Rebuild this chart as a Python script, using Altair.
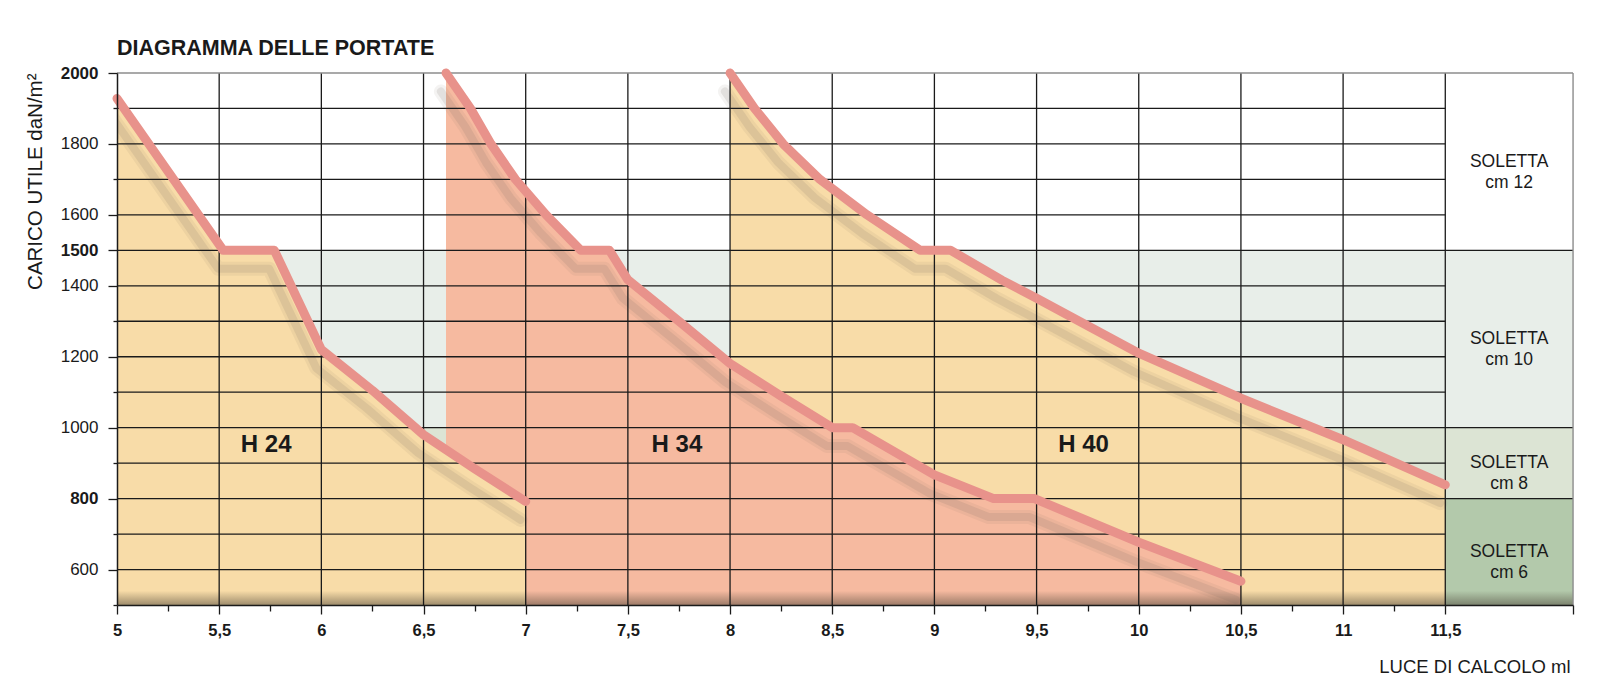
import altair as alt
import pandas as pd

# ---------------- texts ----------------
TITLE = "DIAGRAMMA DELLE PORTATE"
Y_TITLE = "CARICO UTILE daN/m²"
X_TITLE = "LUCE DI CALCOLO ml"

# ---------------- axes ----------------
X_DOMAIN = [5.0, 12.125]
Y_DOMAIN = [500, 2000]
TABLE_END = 11.5
X_TICKS = [5, 5.25, 5.5, 5.75, 6, 6.25, 6.5, 6.75, 7, 7.25, 7.5, 7.75, 8, 8.25, 8.5, 8.75,
           9, 9.25, 9.5, 9.75, 10, 10.25, 10.5, 10.75, 11, 11.25, 11.5, 12.125]
Y_TICKS = [500, 600, 700, 800, 900, 1000, 1100, 1200, 1300, 1400, 1500, 1600, 1700, 1800, 1900, 2000]
Y_LABELS = [600, 800, 1000, 1200, 1400, 1500, 1600, 1800, 2000]
Y_BOLD = [800, 1500, 2000]
V_GRID = [5.5, 6, 6.5, 7, 7.5, 8, 8.5, 9, 9.5, 10, 10.5, 11, 11.5]
H_GRID = [600, 700, 800, 900, 1000, 1100, 1200, 1300, 1400, 1500, 1600, 1700, 1800, 1900]
H_GRID_FULL = [800, 1000, 1500]

# ---------------- curves (luce ml, carico daN/m2) ----------------
H24_X = [5.0, 5.52, 5.77, 6.0, 6.25, 6.5, 6.75, 7.0]
H24_Y = [1928, 1500, 1500, 1220, 1105, 980, 884, 792]
H34_X = [6.61, 6.73, 6.83, 6.95, 7.1, 7.27, 7.41, 7.5, 7.75, 8.0, 8.25, 8.5, 8.6, 9.0, 9.29, 9.49, 10.0, 10.5]
H34_Y = [2000, 1900, 1800, 1700, 1600, 1500, 1500, 1417, 1300, 1181, 1089, 1000, 1000, 867, 800, 800, 677, 567]
H40_X = [8.0, 8.12, 8.26, 8.44, 8.67, 8.93, 9.08, 9.33, 9.5, 10.0, 10.5, 11.0, 11.5]
H40_Y = [2000, 1900, 1800, 1700, 1600, 1500, 1500, 1416, 1365, 1210, 1083, 966, 839]

SERIES = ["H 24", "H 34", "H 40"]
SERIES_LABEL_X = [5.73, 7.74, 9.73]
SERIES_LABEL_Y = [950, 950, 950]

# ---------------- slab bands ----------------
BAND_FROM = [500, 800, 1000, 1500]
BAND_TO = [800, 1000, 1500, 2000]
BAND_TEXT = ["SOLETTA\ncm 6", "SOLETTA\ncm 8", "SOLETTA\ncm 10", "SOLETTA\ncm 12"]

# ---------------- styles ----------------
BAND_COLORS = ["#b3c9ab", "#dce4d4", "#e8eee9", "#ffffff"]
YELLOW = "#f8dca8"
SALMON = "#f6baa0"
LINE_COLOR = "#e8928b"
INK = "#1a1a1a"
FONT = "Liberation Sans"

xs = alt.Scale(domain=X_DOMAIN, nice=False, zero=False)
ys = alt.Scale(domain=Y_DOMAIN, nice=False, zero=False)

label_test = f"indexof({Y_LABELS}, datum.value) >= 0"
bold_test = f"indexof({Y_BOLD}, datum.value) >= 0"

y_axis = alt.Axis(
    values=Y_TICKS, title=Y_TITLE, grid=False, zindex=1,
    labelExpr=f"{label_test} ? format(datum.value, 'd') : ''",
    tickSize={"condition": {"test": label_test, "value": 9}, "value": 4},
    labelFontWeight={"condition": {"test": bold_test, "value": "bold"}, "value": "normal"},
    labelFont=FONT, labelFontSize=17, labelColor=INK, labelPadding=10,
    labelOverlap=False, labelFlush=False,
    domainColor=INK, domainWidth=1.5, tickColor=INK, tickWidth=1.3,
    titleFont=FONT, titleFontSize=20.5, titleFontWeight="normal", titleColor=INK,
    titleAngle=270, titleAlign="right", titleBaseline="alphabetic", titleX=-76, titleY=0,
)
x_axis = alt.Axis(
    values=X_TICKS, title=X_TITLE, grid=False, zindex=1,
    labelExpr="((datum.value * 2) % 1 == 0 && datum.value <= 11.5) ? replace(format(datum.value, ''), '.', ',') : ''",
    tickSize={"condition": {"test": "(datum.value * 2) % 1 == 0 || datum.value > 12", "value": 9}, "value": 6},
    labelFont=FONT, labelFontSize=16.5, labelFontWeight="bold", labelColor=INK, labelPadding=8,
    labelOverlap=False, labelFlush=False,
    domainColor=INK, domainWidth=1.5, tickColor=INK, tickWidth=1.3,
    titleFont=FONT, titleFontSize=18.5, titleFontWeight="normal", titleColor=INK,
    titleAlign="right", titleBaseline="alphabetic", titleX=1453, titleY=67,
)


def X(field):
    return alt.X(field, scale=xs, axis=x_axis)


def Y(field):
    return alt.Y(field, scale=ys, axis=y_axis)


def XD(v):
    return alt.XDatum(v, scale=xs, axis=x_axis)


def YD(v):
    return alt.YDatum(v, scale=ys, axis=y_axis)


# bands (background, full width)
bands = pd.DataFrame({"y": BAND_FROM, "y2": BAND_TO, "band": BAND_TEXT})
band_layer = alt.Chart(bands).mark_rect(strokeWidth=0).encode(
    x=XD(X_DOMAIN[0]), x2=alt.datum(X_DOMAIN[1]),
    y=Y("y:Q"), y2="y2:Q",
    color=alt.Color("band:N", scale=alt.Scale(domain=BAND_TEXT, range=BAND_COLORS), legend=None),
)


def curve_df(xv, yv):
    return pd.DataFrame({"x": xv, "y": yv})


curves = [curve_df(H24_X, H24_Y), curve_df(H34_X, H34_Y), curve_df(H40_X, H40_Y)]
fills = [YELLOW, SALMON, YELLOW]


def area(df, color):
    return alt.Chart(df).mark_area(color=color, opacity=1, interpolate="linear").encode(
        x=X("x:Q"), y=Y("y:Q"), y2=alt.datum(Y_DOMAIN[0]),
    )


def shadow(df, width, opacity):
    return alt.Chart(df).mark_line(
        color="#6e645a", opacity=opacity, strokeWidth=width, strokeCap="round", strokeJoin="round", clip=True
    ).transform_calculate(xs_="datum.x - 0.025", ys_="datum.y - 52").encode(
        x=X("xs_:Q"), y=Y("ys_:Q"),
    )


def line(df):
    return alt.Chart(df).mark_line(
        color=LINE_COLOR, strokeWidth=9, strokeCap="round", strokeJoin="round"
    ).encode(x=X("x:Q"), y=Y("y:Q"))


# bottom shadow of the board
bottom_shadow = alt.Chart(pd.DataFrame({"a": [0]})).mark_rect(
    color=alt.LinearGradient(
        gradient="linear", x1=0, y1=0, x2=0, y2=1,
        stops=[alt.GradientStop(color="rgba(70,62,50,0)", offset=0),
               alt.GradientStop(color="rgba(70,62,50,0.5)", offset=1)],
    )
).encode(
    x=XD(X_DOMAIN[0]), x2=alt.datum(X_DOMAIN[1]),
    y=YD(Y_DOMAIN[0] + 40), y2=alt.datum(Y_DOMAIN[0]),
)

# grid
vgrid = alt.Chart(pd.DataFrame({"x": V_GRID})).mark_rule(color=INK, strokeWidth=1.3).encode(
    x=X("x:Q"), y=YD(Y_DOMAIN[0]), y2=alt.datum(Y_DOMAIN[1]),
)
hgrid_df = pd.DataFrame({
    "y": H_GRID,
    "x0": [X_DOMAIN[0]] * len(H_GRID),
    "x1": [X_DOMAIN[1] if v in H_GRID_FULL else TABLE_END for v in H_GRID],
})
hgrid = alt.Chart(hgrid_df).mark_rule(color=INK, strokeWidth=1.3).encode(
    y=Y("y:Q"), x=X("x0:Q"), x2="x1:Q",
)
top_border = alt.Chart(pd.DataFrame({"a": [0]})).mark_rule(color="#8c8c8c", strokeWidth=1.3).encode(
    y=YD(Y_DOMAIN[1]), x=XD(X_DOMAIN[0]), x2=alt.datum(X_DOMAIN[1]),
)
right_border = alt.Chart(pd.DataFrame({"a": [0]})).mark_rule(color="#8c8c8c", strokeWidth=1.3).encode(
    x=XD(X_DOMAIN[1]), y=YD(Y_DOMAIN[0]), y2=alt.datum(Y_DOMAIN[1]),
)

# labels
series_labels = alt.Chart(pd.DataFrame({"t": SERIES, "x": SERIES_LABEL_X, "y": SERIES_LABEL_Y})).mark_text(
    font=FONT, fontSize=24, fontWeight="bold", color=INK, align="center", baseline="middle"
).encode(x=X("x:Q"), y=Y("y:Q"), text="t:N")

slab_labels = alt.Chart(bands).mark_text(
    font=FONT, fontSize=17.5, color=INK, align="center", baseline="middle", lineBreak="\n", lineHeight=21
).transform_calculate(
    xm=f"({TABLE_END} + {X_DOMAIN[1]}) / 2", ym="(datum.y + datum.y2) / 2"
).encode(x=X("xm:Q"), y=Y("ym:Q"), text="band:N")

layers = [band_layer]
layers += [area(curves[2], fills[2]), area(curves[1], fills[1]), area(curves[0], fills[0])]
layers += [bottom_shadow]
layers += [shadow(c, 14, 0.08) for c in curves]
layers += [shadow(c, 8, 0.13) for c in curves]
layers += [vgrid, hgrid, top_border, right_border]
layers += [line(c) for c in curves]
layers += [series_labels, slab_labels]

chart = alt.layer(*layers).properties(
    width=1456, height=532,
    title=alt.TitleParams(text=TITLE, anchor="start", frame="group", font=FONT, fontSize=21.5,
                          fontWeight="bold", color=INK, offset=16, dy=28, baseline="alphabetic"),
    autosize=alt.AutoSizeParams(type="none"),
    padding={"left": 117, "top": 73, "right": 27, "bottom": 86},
).configure_view(strokeWidth=0).configure(background="white")

chart.save("out.html", embed_options={"renderer": "svg", "actions": False})
